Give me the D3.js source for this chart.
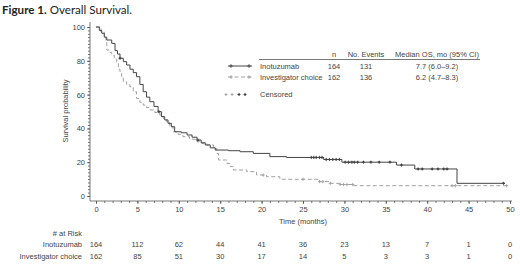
<!DOCTYPE html>
<html>
<head>
<meta charset="utf-8">
<script src="https://cdn.jsdelivr.net/npm/d3@7"></script>
<style>
  body { margin: 0; background: #fff; }
  svg { display: block; }
  text { font-family: "Liberation Sans", Arial, sans-serif; fill: #444; }
</style>
</head>
<body>
<div id="chart"></div>
<script>
// Kaplan-Meier step points: [month, survival %]
var inoSteps = [[0,100],[0.4,98],[0.7,96.3],[1.0,94],[1.3,92.3],[1.9,90.3],[2.3,86],[2.6,84],[2.9,81.5],
  [3.3,79.5],[3.7,77.5],[4.1,75],[4.5,73],[4.9,70.6],[5.3,66],[5.7,61.7],[6.1,58.5],[6.5,55.8],[7.0,53],
  [7.5,49.9],[7.9,47],[8.3,45],[8.7,43],[9.1,41],[9.5,38],[10.3,37.4],[11.0,36.1],[11.6,34.8],[12.2,33.1],
  [12.7,31.5],[13.2,30.2],[13.8,28.5],[14.4,27.2],[16,26.8],[17.4,26.2],[19,25.2],[21,23.3],[23,22.8],
  [27.5,21.6],[29.7,20.0],[36.3,18.3],[38.5,16],[43.6,7.5]];
var inoEnd = 49.4;
var inoCensor = [2.9,7.6,12.3,26.0,26.3,26.6,27.0,27.3,27.8,28.2,28.6,29.0,29.4,30.1,30.5,30.9,31.2,31.6,
  32.3,33.2,34.2,35.5,36.9,38.9,39.4,40.6,41.3,42.0,42.4,49.2];

var invSteps = [[0,100],[0.6,97],[1.0,94],[1.2,92],[1.3,86.4],[1.6,85],[1.9,83.4],[2.2,81],[2.5,78.5],
  [2.7,75],[2.9,72.6],[3.1,70],[3.3,67.6],[3.7,66],[4.1,64.7],[4.5,61.7],[4.9,57.8],[5.3,55.5],[5.7,53.8],
  [6.1,52.3],[6.5,50.9],[7.1,49.4],[7.7,47.9],[8.1,46],[8.5,44],[8.9,41],[9.3,38],[9.9,36.5],[10.5,35.1],
  [11.3,33.6],[12.2,32.1],[12.8,31],[13.4,30.2],[14.2,28.2],[14.6,25.2],[14.8,21.3],[15.8,19.3],[16.2,17.4],
  [16.6,15.4],[18.2,14.4],[19.4,12.4],[20.6,11.4],[22.2,9.9],[27,8.5],[28.3,7.5],[29.5,6.8],[31.1,6.1]];
var invEnd = 49.6;
var invCensor = [20.2,25.0,27.0,27.4,28.3,29.5,29.9,30.3,31.0,43.0,43.4,49.6];

var riskTimes = [0,5,10,15,20,25,30,35,40,45,50];
var riskIno = [164,112,62,44,41,36,23,13,7,1,0];
var riskInv = [162,85,51,30,17,14,5,3,3,1,0];

var legendHead = ["n", "No. Events", "Median OS, mo (95% CI)"];
var legendRows = [
  ["Inotuzumab", "164", "131", "7.7 (6.0\u20139.2)"],
  ["Investigator choice", "162", "136", "6.2 (4.7\u20138.3)"]
];

var W = 520, H = 264;
var svg = d3.select("#chart").append("svg").attr("width", W).attr("height", H);

var x = d3.scaleLinear().domain([0, 50]).range([96, 510]);
var y = d3.scaleLinear().domain([0, 100]).range([196, 27]);
var axisY = 201, axisX = 90;

var dark = "#444", grey = "#a0a0a0";

// title
var title = svg.append("text").attr("x", 2).attr("y", 14)
  .style("font-family", "Lato, 'Open Sans', sans-serif").style("font-size", "11.6px").style("fill", "#222");
title.append("tspan").style("font-weight", "bold").style("fill", "#222").text("Figure 1.");
title.append("tspan").style("fill", "#222").text(" Overall Survival.");

// axes
svg.append("line").attr("x1", axisX).attr("x2", axisX).attr("y1", 22).attr("y2", axisY)
  .attr("stroke", "#555").attr("stroke-width", 0.8);
svg.append("line").attr("x1", axisX).attr("x2", 512).attr("y1", axisY).attr("y2", axisY)
  .attr("stroke", "#555").attr("stroke-width", 0.8);

var yAx = svg.append("g").attr("transform", "translate(" + axisX + ",0)")
  .call(d3.axisLeft(y).tickValues([0,20,40,60,80,100]).tickSize(3).tickPadding(2));
var yMinor = svg.append("g").attr("transform", "translate(" + axisX + ",0)")
  .call(d3.axisLeft(y).tickValues(d3.range(0, 101, 2)).tickSize(2).tickFormat(""));
var xAx = svg.append("g").attr("transform", "translate(0," + axisY + ")")
  .call(d3.axisBottom(x).tickValues(d3.range(0, 51, 5)).tickSize(3).tickPadding(3));
var xMinor = svg.append("g").attr("transform", "translate(0," + axisY + ")")
  .call(d3.axisBottom(x).tickValues(d3.range(0, 51, 1)).tickSize(2).tickFormat(""));
[yAx, yMinor, xAx, xMinor].forEach(function(g) {
  g.select(".domain").remove();
  g.selectAll("line").attr("stroke", "#555").attr("stroke-width", 0.8);
  g.selectAll("text").style("font-size", "7.5px").style("fill", "#444")
    .style("font-family", "'Liberation Sans', Arial, sans-serif");
});

svg.append("text").attr("transform", "translate(68,111) rotate(-90)")
  .attr("text-anchor", "middle").style("font-size", "7.5px").text("Survival probability");
svg.append("text").attr("x", 303).attr("y", 224)
  .attr("text-anchor", "middle").style("font-size", "7.5px").text("Time (months)");

// curves
function stepValue(steps, t) {
  var v = steps[0][1];
  steps.forEach(function(s) { if (s[0] <= t) v = s[1]; });
  return v;
}
var line = d3.line().x(function(d) { return x(d[0]); }).y(function(d) { return y(d[1]); })
  .curve(d3.curveStepAfter);

svg.append("path").datum(invSteps.concat([[invEnd, invSteps[invSteps.length - 1][1]]]))
  .attr("d", line).attr("fill", "none").attr("stroke", grey).attr("stroke-width", 1)
  .attr("stroke-dasharray", "4,2.5");
svg.append("path").datum(inoSteps.concat([[inoEnd, inoSteps[inoSteps.length - 1][1]]]))
  .attr("d", line).attr("fill", "none").attr("stroke", dark).attr("stroke-width", 1);

function plus(g, cx, cy, col, s) {
  g.append("path").attr("d", "M" + (cx - s) + "," + cy + "H" + (cx + s) + "M" + cx + "," + (cy - s) + "V" + (cy + s))
    .attr("stroke", col).attr("stroke-width", 0.9).attr("fill", "none");
}
var cg = svg.append("g");
invCensor.forEach(function(t) { plus(cg, x(t), y(stepValue(invSteps, t)), grey, 1.6); });
inoCensor.forEach(function(t) {
  plus(cg, x(t), y(stepValue(inoSteps, t)), dark, 1.6);
  cg.append("circle").attr("cx", x(t)).attr("cy", y(stepValue(inoSteps, t))).attr("r", 0.9).attr("fill", dark);
});

// legend
var lg = svg.append("g");
var colX = [334, 366, 437];
legendHead.forEach(function(h, i) {
  lg.append("text").attr("x", colX[i]).attr("y", 57).attr("text-anchor", "middle")
    .style("font-size", "7.5px").text(h);
});
lg.append("line").attr("x1", 259).attr("x2", 480).attr("y1", 59.5).attr("y2", 59.5)
  .attr("stroke", "#555").attr("stroke-width", 0.8);
legendRows.forEach(function(r, i) {
  var ry = 68.5 + i * 11;
  lg.append("text").attr("x", 260).attr("y", ry).style("font-size", "7.5px").text(r[0]);
  for (var k = 1; k < 4; k++) {
    lg.append("text").attr("x", colX[k - 1]).attr("y", ry).attr("text-anchor", "middle")
      .style("font-size", "7.5px").text(r[k]);
  }
  var col = i == 0 ? dark : grey;
  lg.append("line").attr("x1", 228).attr("x2", 252).attr("y1", ry - 2.5).attr("y2", ry - 2.5)
    .attr("stroke", col).attr("stroke-width", 1).attr("stroke-dasharray", i == 0 ? null : "4,2.5");
  plus(lg, 231, ry - 2.5, col, 1.8);
  plus(lg, 249, ry - 2.5, col, 1.8);
});
plus(lg, 226, 94.5, grey, 1.5);
plus(lg, 232, 94.5, grey, 1.5);
plus(lg, 239, 94.5, dark, 1.5);
plus(lg, 245, 94.5, dark, 1.5);
lg.append("circle").attr("cx", 239).attr("cy", 94.5).attr("r", 0.9).attr("fill", dark);
lg.append("circle").attr("cx", 245).attr("cy", 94.5).attr("r", 0.9).attr("fill", dark);
lg.append("text").attr("x", 260).attr("y", 97).style("font-size", "7.5px").text("Censored");

// risk table
var rt = svg.append("g");
rt.append("text").attr("x", 82).attr("y", 236).attr("text-anchor", "end").style("font-size", "7.5px").text("# at Risk");
rt.append("text").attr("x", 82).attr("y", 247).attr("text-anchor", "end").style("font-size", "7.5px").text("Inotuzumab");
rt.append("text").attr("x", 82).attr("y", 259).attr("text-anchor", "end").style("font-size", "7.5px").text("Investigator choice");
riskTimes.forEach(function(t, i) {
  rt.append("text").attr("x", x(t)).attr("y", 247).attr("text-anchor", "middle").style("font-size", "7.5px").text(riskIno[i]);
  rt.append("text").attr("x", x(t)).attr("y", 259).attr("text-anchor", "middle").style("font-size", "7.5px").text(riskInv[i]);
});
</script>
</body>
</html>
